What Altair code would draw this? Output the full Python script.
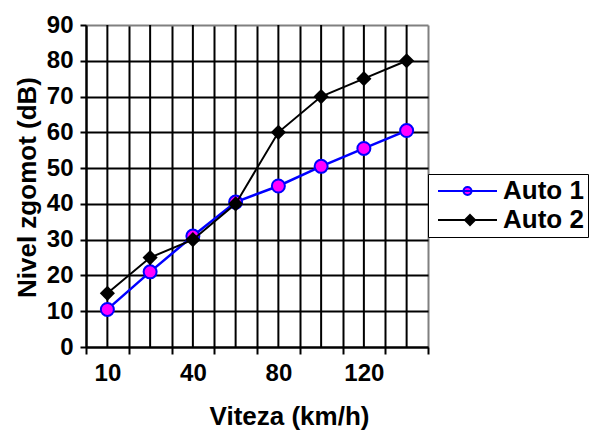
import json
import altair as alt
import pandas as pd

# ---- data ----
speeds = ["10", "20", "40", "60", "80", "100", "120", "140"]
shown_labels = ["10", "40", "80", "120"]
auto1 = [10.5, 21, 31, 40.5, 45, 50.5, 55.5, 60.5]
auto2 = [15, 25, 30, 40, 60, 70, 75, 80]
series = ["Auto 1", "Auto 2"]
y_ticks = [0, 10, 20, 30, 40, 50, 60, 70, 80, 90]

FONT = "Liberation Sans"

df = pd.DataFrame({"Viteza": speeds, "idx": list(range(len(speeds))),
                   "Auto 1": auto1, "Auto 2": auto2})
long = df.melt(id_vars=["Viteza", "idx"], value_vars=series,
               var_name="Serie", value_name="Nivel")

label_expr = f"indexof({json.dumps(shown_labels)}, datum.label) >= 0 ? datum.label : ''"

x_scale = alt.Scale(type="band", domain=speeds, paddingInner=0, paddingOuter=0)
y_scale = alt.Scale(domain=[y_ticks[0], y_ticks[-1]], nice=False, zero=True)

x_axis = alt.Axis(
    title="Viteza (km/h)",
    tickBand="extent",
    grid=True,
    gridColor=alt.condition(f"datum.value === '{speeds[-1]}'", alt.value("#808080"), alt.value("black")),
    gridWidth=2,
    domainColor="black", domainWidth=2,
    ticks=True, tickColor="black", tickWidth=2, tickSize=7,
    labelExpr=label_expr, labelAngle=0, labelOverlap=False,
    labelFont=FONT, labelFontSize=24, labelFontWeight="bold", labelColor="black",
    labelPadding=7,
    titleFont=FONT, titleFontSize=26, titleFontWeight="bold", titleColor="black",
    titleX=203, titleY=77, titleAlign="center", titleBaseline="alphabetic",
)

y_axis = alt.Axis(
    title="Nivel zgomot (dB)",
    values=y_ticks,
    grid=True,
    gridColor=alt.condition(f"datum.value === {y_ticks[-1]}", alt.value("#808080"), alt.value("black")),
    gridWidth=2,
    domainColor="black", domainWidth=2,
    tickColor="black", tickWidth=2, tickSize=6,
    labelFont=FONT, labelFontSize=24, labelFontWeight="bold", labelColor="black",
    labelPadding=7,
    titleFont=FONT, titleFontSize=26, titleFontWeight="bold", titleColor="black",
    titleAngle=270, titleX=-51, titleY=162, titleAlign="center", titleBaseline="alphabetic",
)

x_enc = alt.X("Viteza:N", sort=speeds, scale=x_scale, axis=x_axis)
y_enc = alt.Y("Nivel:Q", scale=y_scale, axis=y_axis)

base = alt.Chart(long)

center_rules = alt.Chart(df).mark_rule(color="black", strokeWidth=2).encode(x=x_enc)

line1 = base.transform_filter(alt.datum.Serie == series[0]).mark_line(
    color="#0000FF", strokeWidth=2.5).encode(x=x_enc, y=y_enc, order="idx:Q")
pts1 = base.transform_filter(alt.datum.Serie == series[0]).mark_point(
    shape="circle", filled=True, color="#FF00FF", stroke="#0000FF",
    strokeWidth=2, size=169, opacity=1).encode(x=x_enc, y=y_enc)

line2 = base.transform_filter(alt.datum.Serie == series[1]).mark_line(
    color="black", strokeWidth=2).encode(x=x_enc, y=y_enc, order="idx:Q")
pts2 = base.transform_filter(alt.datum.Serie == series[1]).mark_point(
    shape="diamond", filled=True, color="black", size=230, opacity=1).encode(x=x_enc, y=y_enc)

# legend symbols: line with marker in the middle
path1 = "M-0.7,0L5.2,0M2.65,0A0.4,0.4 0 1,1 1.85,0A0.4,0.4 0 1,1 2.65,0Z"
path2 = "M-0.7,0L5.2,0M2.5,-0.5L3.0,0L2.5,0.5L2.0,0Z"

legend = alt.Legend(
    title=None, orient="none", legendX=342, legendY=149, direction="vertical",
    symbolSize=400, symbolStrokeWidth=2, symbolOpacity=1, labelOffset=45,
    labelFont=FONT, labelFontSize=26, labelFontWeight="bold", labelColor="black",
    padding=4, rowPadding=3, strokeColor="black", fillColor="white",
)

legend_layer = base.transform_filter("false").mark_point(strokeWidth=2).encode(
    x=x_enc, y=y_enc,
    shape=alt.Shape("Serie:N", scale=alt.Scale(domain=series, range=[path1, path2]), legend=legend),
    fill=alt.Fill("Serie:N", scale=alt.Scale(domain=series, range=["#FF00FF", "black"]), legend=legend),
    stroke=alt.Stroke("Serie:N", scale=alt.Scale(domain=series, range=["#0000FF", "black"]), legend=legend),
)

chart = alt.layer(center_rules, line1, pts1, line2, pts2, legend_layer).properties(
    width=342, height=322,
    padding={"left": 86, "top": 25, "right": 167, "bottom": 89},
    autosize=alt.AutoSizeParams(type="none"),
    background="white",
).configure_view(strokeWidth=0)

chart.save("out.html", embed_options={"renderer": "svg", "actions": False})
